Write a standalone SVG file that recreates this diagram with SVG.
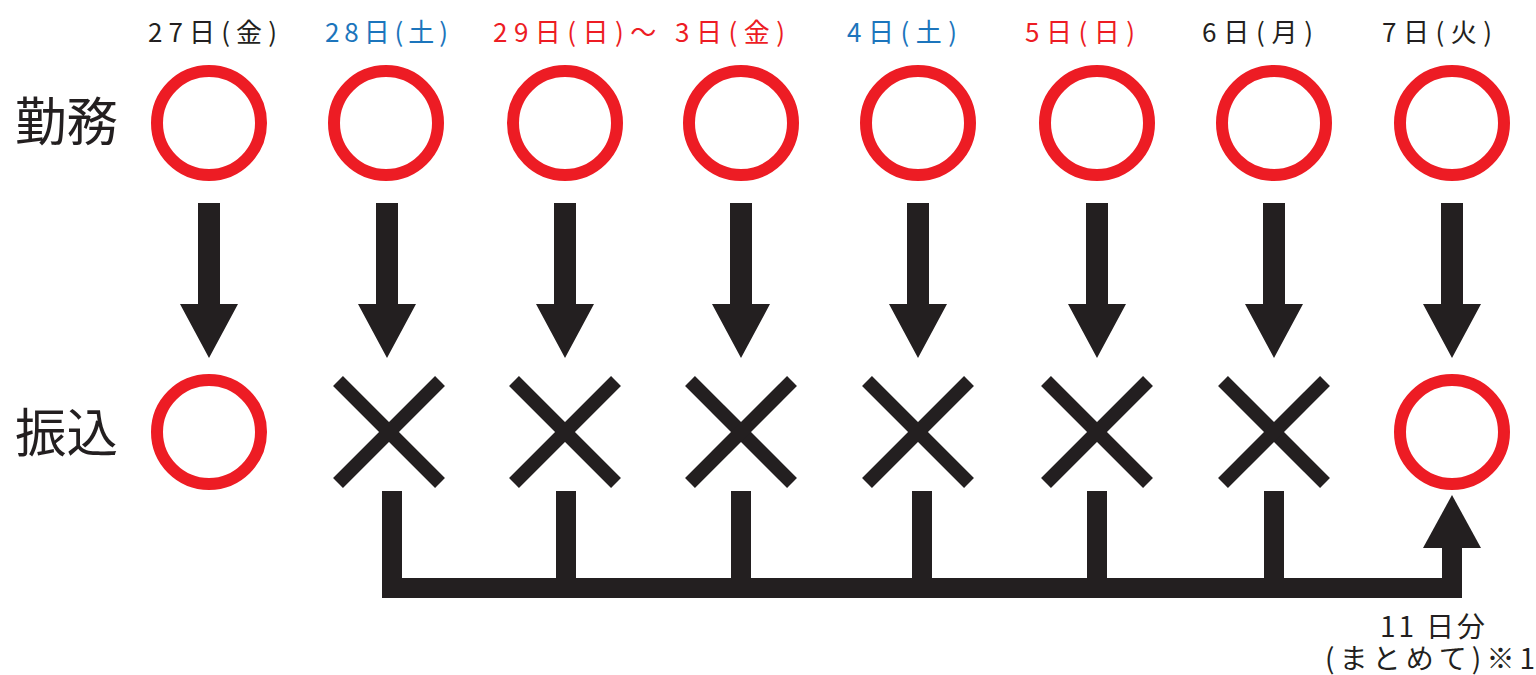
<svg xmlns="http://www.w3.org/2000/svg" width="1536" height="675" viewBox="0 0 1536 675">
<defs>
<style>
.t{font-family:"Noto Sans CJK JP","Noto Sans",sans-serif;}
.hd{font-size:26px;}
.k{fill:#231f20;}
.r{fill:#ed1c24;}
.b{fill:#1c75bc;}
.lab{font-size:52px;fill:#231f20;}
.o{fill:none;stroke:#ed1c24;stroke-width:12;}
.x{stroke:#231f20;stroke-width:14;stroke-linecap:butt;}
.ar{fill:#231f20;}
.br{fill:none;stroke:#231f20;stroke-width:20;stroke-linejoin:miter;stroke-linecap:butt;}
</style>
<circle id="ring" r="52" class="o"/>
<g id="cross" class="x"><line x1="-51" y1="-51" x2="51" y2="51"/><line x1="51" y1="-51" x2="-51" y2="51"/></g>
<path id="down" d="M-11,203 H11 V304 H29 L0,358 L-29,304 H-11 Z"/>
</defs>
<rect width="1536" height="675" fill="#fff"/>

<g id="headers" class="t hd">
<text id="h1" class="k" x="148" y="42" textLength="129" lengthAdjust="spacing">27日(金)</text>
<text id="h2" class="b" x="325" y="42" textLength="123" lengthAdjust="spacing">28日(土)</text>
<text id="h3" class="r" x="493" y="42" textLength="292" lengthAdjust="spacing">29日(日)〜 3日(金)</text>
<text id="h4" class="b" x="847" y="42" textLength="110" lengthAdjust="spacing">4日(土)</text>
<text id="h5" class="r" x="1025" y="42" textLength="110" lengthAdjust="spacing">5日(日)</text>
<text id="h6" class="k" x="1202" y="42" textLength="111" lengthAdjust="spacing">6日(月)</text>
<text id="h7" class="k" x="1382" y="42" textLength="110" lengthAdjust="spacing">7日(火)</text>
</g>

<g id="row-labels" class="t">
<text id="lbl-kinmu" class="lab" x="15" y="141" textLength="103" lengthAdjust="spacingAndGlyphs">勤務</text>
<text id="lbl-furikomi" class="lab" x="15" y="452" textLength="103" lengthAdjust="spacingAndGlyphs">振込</text>
</g>

<g id="work-row">
<use id="w1" href="#ring" x="209" y="123"/>
<use id="w2" href="#ring" x="386" y="123"/>
<use id="w3" href="#ring" x="565" y="123"/>
<use id="w4" href="#ring" x="741" y="123"/>
<use id="w5" href="#ring" x="918" y="123"/>
<use id="w6" href="#ring" x="1097" y="123"/>
<use id="w7" href="#ring" x="1274" y="123"/>
<use id="w8" href="#ring" x="1452" y="123"/>
</g>

<g id="pay-row">
<use id="p1" href="#ring" x="209" y="432"/>
<use id="p2" href="#cross" x="389" y="432"/>
<use id="p3" href="#cross" x="565" y="432"/>
<use id="p4" href="#cross" x="741" y="432"/>
<use id="p5" href="#cross" x="918" y="432"/>
<use id="p6" href="#cross" x="1097" y="432"/>
<use id="p7" href="#cross" x="1274" y="432"/>
<use id="p8" href="#ring" x="1452" y="432"/>
</g>

<g id="connectors">
<g class="ar">
<use href="#down" x="209"/>
<use href="#down" x="387"/>
<use href="#down" x="565"/>
<use href="#down" x="741"/>
<use href="#down" x="918"/>
<use href="#down" x="1097"/>
<use href="#down" x="1274"/>
<use href="#down" x="1452"/>
</g>
<path class="br" d="M392,491 V588 H1452 V546"/>
<path class="br" d="M566,491 V588 M741,491 V588 M922,491 V588 M1097,491 V588 M1274,491 V588"/>
<polygon class="ar" points="1423,548 1481,548 1452,495"/>
</g>

<g id="note" class="t k" font-size="28">
<text><tspan x="1380" y="637" textLength="105" lengthAdjust="spacing">11 日分</tspan><tspan x="1325" y="669" textLength="210" lengthAdjust="spacing">(まとめて)※1</tspan></text>
</g>
</svg>
